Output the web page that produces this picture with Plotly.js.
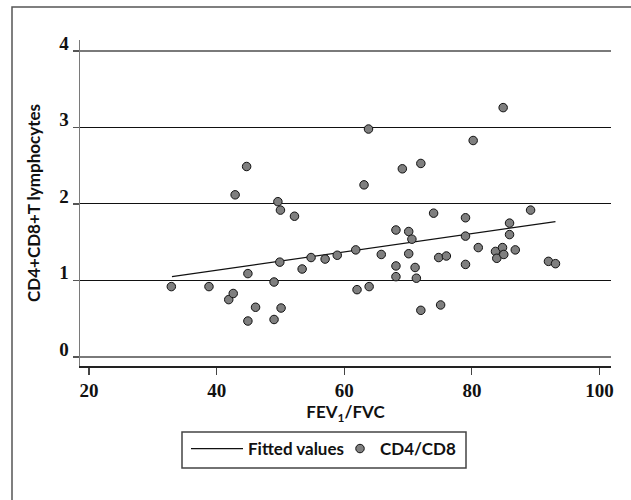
<!DOCTYPE html>
<html>
<head>
<meta charset="utf-8">
<script src="https://cdn.plot.ly/plotly-3.0.1.min.js"></script>
<style>html,body{margin:0;padding:0;background:#fff;}#chart{width:631px;height:500px;}</style>
</head>
<body>
<div id="chart"></div>
<script>
// FEV1/FVC (x) and CD4/CD8 ratio (y)
var fev = [32.9, 38.8, 41.9, 42.6, 42.9, 44.7, 44.9, 44.9, 46.1, 49.0, 49.0, 49.6, 50.0, 49.9, 50.1, 52.2, 53.4, 54.8, 57.0, 58.9, 61.8, 62.0, 63.1, 63.8, 63.9, 65.8, 68.1, 68.1, 68.1, 69.1, 70.1, 70.1, 70.6, 71.1, 71.3, 72.0, 72.0, 74.0, 74.8, 75.1, 76.0, 79.0, 79.0, 79.0, 80.2, 81.0, 83.7, 83.9, 84.8, 85.0, 84.9, 85.9, 85.9, 86.8, 89.2, 92.0, 93.1];
var ratio = [0.92, 0.92, 0.75, 0.83, 2.12, 2.49, 1.09, 0.47, 0.65, 0.98, 0.49, 2.03, 1.92, 1.24, 0.64, 1.84, 1.15, 1.30, 1.28, 1.33, 1.40, 0.88, 2.25, 2.98, 0.92, 1.34, 1.66, 1.19, 1.05, 2.46, 1.64, 1.35, 1.54, 1.17, 1.03, 2.53, 0.61, 1.88, 1.30, 0.68, 1.32, 1.82, 1.58, 1.21, 2.83, 1.43, 1.38, 1.29, 1.43, 1.34, 3.26, 1.75, 1.60, 1.40, 1.92, 1.25, 1.22];
// Fitted values line endpoints
var fitX = [33.0, 93.1];
var fitY = [1.05, 1.77];
// Tick values
var xTicks = [20, 40, 60, 80, 100];
var yTicks = [0, 1, 2, 3, 4];
var topGrid = 4;

var serif = "Liberation Serif, Times New Roman, serif";
var sans = "Lato, Noto Sans, sans-serif";
var legendFont = {family: sans, size: 17, weight: 'bold', color: '#111'};

var traces = [
  {
    x: fitX, y: fitY, type: 'scatter', mode: 'lines',
    name: 'Fitted values',
    line: {color: '#111', width: 1.2},
    legend: 'legend',
    hoverinfo: 'skip'
  },
  {
    x: fev, y: ratio, type: 'scatter', mode: 'markers',
    name: 'CD4/CD8',
    legend: 'legend2',
    marker: {color: '#7f7f7f', size: 8.5, line: {color: '#111', width: 1}}
  }
];

// pixel -> paper helpers for the legend frame and outer frame
function px(p) { return (p - 80) / 531; }
function py(p) { return (366 - p) / 326; }

var layout = {
  width: 631, height: 500,
  margin: {l: 80, r: 20, t: 40, b: 134},
  paper_bgcolor: '#fff', plot_bgcolor: '#fff',
  showlegend: true,
  legend: {
    orientation: 'h',
    xref: 'container', yref: 'container',
    x: 186 / 631, xanchor: 'left',
    y: 1 - 431 / 500, yanchor: 'top',
    borderwidth: 0, bgcolor: 'rgba(0,0,0,0)',
    font: legendFont,
    itemwidth: 52
  },
  legend2: {
    orientation: 'h',
    xref: 'container', yref: 'container',
    x: 340 / 631, xanchor: 'left',
    y: 1 - 431 / 500, yanchor: 'top',
    borderwidth: 0, bgcolor: 'rgba(0,0,0,0)',
    font: legendFont,
    itemwidth: 30
  },
  xaxis: {
    range: [18.59, 101.8],
    tickvals: xTicks,
    ticktext: xTicks.map(String),
    showgrid: false, zeroline: false,
    showline: true, linecolor: '#222', linewidth: 1.5,
    ticks: 'outside', ticklen: 7, tickcolor: '#444', tickwidth: 1.2,
    tickfont: {family: serif, size: 19, weight: 'bold', color: '#111'},
    title: {
      text: 'FEV<sub>1</sub>/FVC',
      font: {family: sans, size: 17, weight: 'bold', color: '#111'},
      standoff: 2
    },
    automargin: false
  },
  yaxis: {
    range: [-0.118, 4.144],
    tickvals: yTicks,
    ticktext: yTicks.map(String),
    showgrid: true, gridcolor: '#111', gridwidth: 1,
    zeroline: true, zerolinecolor: '#7a7a7a', zerolinewidth: 2,
    showline: true, linecolor: '#7a7a7a', linewidth: 1.5,
    ticks: 'outside', ticklen: 6, tickcolor: '#555', tickwidth: 1.2,
    ticklabelshift: -8,
    tickfont: {family: serif, size: 19, weight: 'bold', color: '#111'},
    title: {
      text: 'CD4+CD8+T lymphocytes',
      font: {family: sans, size: 17, weight: 'bold', color: '#111'},
      standoff: 14
    },
    automargin: false
  },
  shapes: [
    {
      type: 'line', layer: 'above',
      xref: 'paper', x0: 0, x1: 1,
      yref: 'y', y0: topGrid, y1: topGrid,
      line: {color: '#7a7a7a', width: 2}
    },
    {
      type: 'rect', layer: 'above',
      xref: 'paper', x0: px(182), x1: px(466),
      yref: 'paper', y0: py(468), y1: py(432),
      line: {color: '#444', width: 1.5},
      fillcolor: 'rgba(0,0,0,0)'
    },
    {
      type: 'rect', layer: 'above',
      xref: 'paper', x0: px(12), x1: px(640),
      yref: 'paper', y0: py(510), y1: py(7),
      line: {color: '#555', width: 1.5},
      fillcolor: 'rgba(0,0,0,0)'
    }
  ]
};

Plotly.newPlot('chart', traces, layout, {displayModeBar: false, staticPlot: true});
</script>
</body>
</html>
